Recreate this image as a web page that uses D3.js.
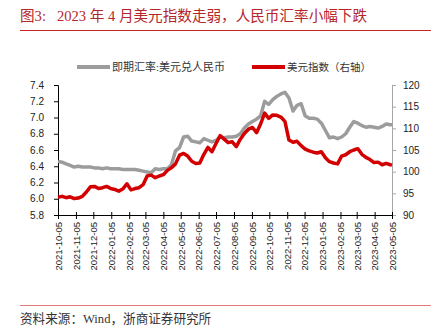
<!DOCTYPE html>
<html>
<head>
<meta charset="utf-8">
<script src="https://cdn.jsdelivr.net/npm/d3@7"></script>
<style>
  html, body { margin: 0; padding: 0; background: #fff; }
  svg { display: block; }
</style>
</head>
<body>
<svg id="chart" width="439" height="329"></svg>
<script>
// ---- data (weekly readings from 2021-10-05, plus final 2023-05-05) ----
const startDate = "2021-10-05";
const endDate = "2023-05-05";
const usdCny = [
  6.46, 6.45, 6.43, 6.41, 6.39, 6.40, 6.39, 6.39, 6.39, 6.38,
  6.38, 6.37, 6.38, 6.37, 6.37, 6.37, 6.36, 6.36, 6.36, 6.36,
  6.35, 6.34, 6.33, 6.32, 6.37, 6.36, 6.37, 6.37, 6.42, 6.59,
  6.63, 6.76, 6.77, 6.71, 6.70, 6.69, 6.74, 6.72, 6.70, 6.72,
  6.76, 6.75, 6.76, 6.76, 6.77, 6.80, 6.87, 6.92, 6.95, 6.98,
  7.02, 7.20, 7.16, 7.22, 7.26, 7.29, 7.31, 7.24, 7.08, 7.15,
  7.17, 7.02, 6.99, 6.99, 6.98, 6.93, 6.84, 6.75, 6.76, 6.74,
  6.76, 6.80, 6.88, 6.95, 6.93, 6.90, 6.88, 6.89, 6.88, 6.87,
  6.89, 6.92, 6.91, 6.91
];
const dxy = [
  94.1, 94.3, 94.0, 94.2, 93.8, 93.9, 94.3, 95.3, 96.5, 96.6,
  96.1, 96.3, 96.6, 96.1, 95.9, 95.5, 96.0, 97.2, 95.8, 96.1,
  96.3, 97.0, 99.0, 99.2, 98.6, 99.0, 99.3, 100.3, 100.9, 101.8,
  103.8, 104.2, 103.6, 102.4, 101.9, 102.0, 104.0, 105.6, 104.6, 106.5,
  108.3, 107.5, 106.7, 106.9, 105.8, 107.5, 108.8, 109.8, 110.2, 109.0,
  111.0, 113.5, 112.3, 113.1, 113.0, 112.6, 111.6, 107.3, 106.8, 107.0,
  106.0, 105.2, 104.8, 104.5, 104.3, 104.6, 103.2, 102.3, 102.0, 101.8,
  103.6, 103.9, 104.6, 105.0, 105.3, 104.0, 103.3, 102.8, 102.1, 102.2,
  101.6, 101.9, 101.6, 101.5
];
const leftTicks = [5.8, 6.0, 6.2, 6.4, 6.6, 6.8, 7.0, 7.2, 7.4];
const rightTicks = [90, 95, 100, 105, 110, 115, 120];
const seriesNames = ["即期汇率:美元兑人民币", "美元指数（右轴）"];
const titleText = "图3:   2023 年 4 月美元指数走弱，人民币汇率小幅下跌";
const sourceText = "资料来源：Wind，浙商证券研究所";

// ---- build ----
const parse = d3.utcParse("%Y-%m-%d");
const t0 = parse(startDate), t1 = parse(endDate);
const dates = usdCny.map((_, i) => i < usdCny.length - 1 ? d3.utcDay.offset(t0, 7 * i) : t1);

const svg = d3.select("#chart");
const plot = { left: 58, right: 392, top: 85, bottom: 215 };

const x = d3.scaleUtc().domain([t0, t1]).range([plot.left, plot.right]);
const yL = d3.scaleLinear().domain([5.8, 7.4]).range([plot.bottom, plot.top]);
const yR = d3.scaleLinear().domain([90, 120]).range([plot.bottom, plot.top]);

const grayC = "#9c9c9c", redC = "#d20000", titleC = "#b5262b";
const numFont = "'Liberation Sans', Arial, sans-serif";
const cjkFont = "'Liberation Serif', 'Noto Sans CJK SC', serif";

// title
svg.append("text").attr("x", 20).attr("y", 21)
  .attr("font-family", cjkFont).attr("font-size", 14.6).attr("fill", titleC)
  .attr("xml:space", "preserve").style("white-space", "pre")
  .text(titleText);
svg.append("line").attr("x1", 20).attr("x2", 431).attr("y1", 30.5).attr("y2", 30.5)
  .attr("stroke", "#c8242b").attr("stroke-width", 1);

// legend
const lg = svg.append("g");
lg.append("line").attr("x1", 77).attr("x2", 110).attr("y1", 67).attr("y2", 67)
  .attr("stroke", grayC).attr("stroke-width", 4);
lg.append("text").attr("x", 112).attr("y", 71).attr("font-family", cjkFont)
  .attr("font-size", 11).attr("fill", "#333").text(seriesNames[0]);
lg.append("line").attr("x1", 252).attr("x2", 285).attr("y1", 67).attr("y2", 67)
  .attr("stroke", redC).attr("stroke-width", 4);
lg.append("text").attr("x", 287).attr("y", 71).attr("font-family", cjkFont)
  .attr("font-size", 10.5).attr("fill", "#333").text(seriesNames[1]);

// axes
const axL = svg.append("g").attr("transform", `translate(${plot.left},0)`)
  .call(d3.axisLeft(yL).tickValues(leftTicks).tickFormat(d3.format(".1f")).tickSize(4).tickPadding(10));
axL.select(".domain").attr("stroke", "#000");
axL.selectAll("line").attr("stroke", "#000");
axL.selectAll("text").attr("font-family", numFont).attr("font-size", 10).attr("fill", "#222");

const axR = svg.append("g").attr("transform", `translate(${plot.right},0)`)
  .call(d3.axisRight(yR).tickValues(rightTicks).tickSize(4).tickPadding(7));
axR.select(".domain").attr("stroke", "#a6a6a6");
axR.selectAll("line").attr("stroke", "#a6a6a6");
axR.selectAll("text").attr("font-family", numFont).attr("font-size", 10).attr("fill", "#222");

const monthTicks = d3.range(0, 20).map(i => d3.utcMonth.offset(t0, i));
const axB = svg.append("g").attr("transform", `translate(0,${plot.bottom})`)
  .call(d3.axisBottom(x).tickValues(monthTicks).tickFormat(d3.utcFormat("%Y-%m-%d")).tickSize(4).tickPadding(6));
axB.select(".domain").attr("stroke", "#000");
axB.selectAll(".tick line").attr("stroke", "#000").attr("y1", -3).attr("y2", 4);
axB.selectAll("text").attr("font-family", numFont).attr("font-size", 9.5).attr("fill", "#222")
  .attr("transform", "rotate(-90)").attr("text-anchor", "end")
  .attr("x", -7).attr("y", 0).attr("dy", "0.35em");

// lines
const lineL = d3.line().x((d, i) => x(dates[i])).y(d => yL(d));
const lineR = d3.line().x((d, i) => x(dates[i])).y(d => yR(d));
svg.append("path").datum(usdCny).attr("d", lineL).attr("fill", "none")
  .attr("stroke", grayC).attr("stroke-width", 3.5).attr("stroke-linejoin", "round");
svg.append("path").datum(dxy).attr("d", lineR).attr("fill", "none")
  .attr("stroke", redC).attr("stroke-width", 3.5).attr("stroke-linejoin", "round");

// footer
svg.append("line").attr("x1", 20).attr("x2", 431).attr("y1", 305.5).attr("y2", 305.5)
  .attr("stroke", "#e07a7a").attr("stroke-width", 1);
svg.append("text").attr("x", 20).attr("y", 323)
  .attr("font-family", cjkFont).attr("font-size", 12.6).attr("fill", "#333")
  .text(sourceText);
</script>
</body>
</html>
